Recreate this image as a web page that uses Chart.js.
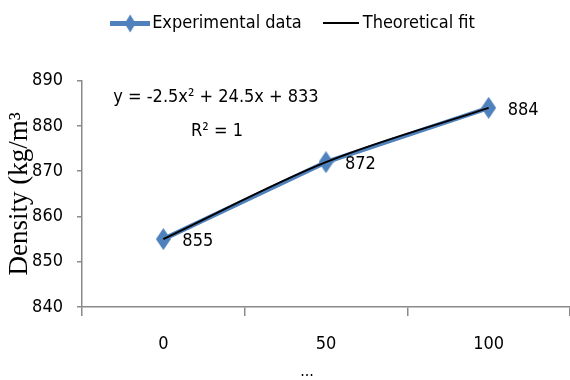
<!DOCTYPE html>
<html>
<head>
<meta charset="utf-8">
<script src="https://cdn.jsdelivr.net/npm/chart.js@4"></script>
<style>
  html, body { margin: 0; padding: 0; background: #fff; }
  #wrap { width: 570px; height: 380px; }
</style>
</head>
<body>
<div id="wrap"><canvas id="myChart"></canvas></div>
<script>
/* globals Chart */

const categories = ["0", "50", "100"];
const densityValues = [855, 872, 884];
const fitValues = [855, 872, 884];
const yTicks = [840, 850, 860, 870, 880, 890];
const seriesNames = ["Experimental data", "Theoretical fit"];
const fitEquation = ["y = -2.5x² + 24.5x + 833", "R² = 1"];

const SANS = "'DejaVu Sans Condensed', 'Liberation Sans', sans-serif";
const SERIF = "'Liberation Serif', 'DejaVu Serif', serif";
const BLUE = "#4f81bd";
const AXIS = "#8a8a8a";

function makeCanvas(w, h, draw) {
  const c = document.createElement("canvas");
  c.width = w;
  c.height = h;
  draw(c.getContext("2d"));
  return c;
}

function diamond(c, cx, cy, w, h) {
  c.beginPath();
  c.moveTo(cx, cy - h / 2);
  c.lineTo(cx + w / 2, cy);
  c.lineTo(cx, cy + h / 2);
  c.lineTo(cx - w / 2, cy);
  c.closePath();
  c.fill();
}

const pointImg = makeCanvas(15, 22, (c) => {
  c.fillStyle = BLUE;
  diamond(c, 7.5, 11, 15, 22);
});

const legendBlue = makeCanvas(40, 20, (c) => {
  c.fillStyle = BLUE;
  c.fillRect(0, 8, 40, 5);
  diamond(c, 20, 10.5, 11, 18);
});

const legendBlack = makeCanvas(36, 20, (c) => {
  c.fillStyle = "#000";
  c.fillRect(0, 9, 36, 2);
});

// value labels, trendline equation and the clipped x title
const annotations = {
  id: "annotations",
  afterDatasetsDraw(chart) {
    const ctx = chart.ctx;
    const meta = chart.getDatasetMeta(0);
    ctx.save();
    ctx.fillStyle = "#000";
    ctx.textBaseline = "middle";
    ctx.textAlign = "left";
    ctx.font = `18px ${SANS}`;
    meta.data.forEach((pt, i) => {
      ctx.fillText(String(densityValues[i]), pt.x + 19, pt.y + 2);
    });
    ctx.textAlign = "center";
    ctx.fillText(fitEquation[0], 216, 97);
    ctx.fillText(fitEquation[1], 217, 131);
    ctx.font = `16px ${SANS}`;
    ctx.fillText("...", 307, 372);
    ctx.restore();
  },
};

const ctx = document.getElementById("myChart").getContext("2d");

/* exported myChart */
const myChart = new Chart(ctx, {
  type: "line",
  data: {
    labels: categories,
    datasets: [
      {
        label: seriesNames[0],
        data: densityValues,
        borderColor: BLUE,
        backgroundColor: BLUE,
        borderWidth: 4.5,
        pointStyle: pointImg,
        pointRadius: 7,
        tension: 0,
        order: 1,
      },
      {
        label: seriesNames[1],
        data: fitValues,
        borderColor: "#000",
        backgroundColor: "#000",
        borderWidth: 2,
        pointRadius: 0,
        cubicInterpolationMode: "monotone",
        order: 0,
      },
    ],
  },
  options: {
    responsive: true,
    maintainAspectRatio: false,
    devicePixelRatio: 1,
    animation: false,
    layout: {
      autoPadding: false,
      padding: { top: -12, left: 22, right: 0, bottom: 0 },
    },
    scales: {
      x: {
        offset: true,
        grid: {
          offset: true,
          drawOnChartArea: false,
          tickLength: 9,
          color: AXIS,
          lineWidth: 1.5,
        },
        border: { color: AXIS, width: 1.5 },
        ticks: {
          color: "#000",
          maxRotation: 0,
          padding: 18,
          font: { family: SANS, size: 18 },
        },
        afterFit: (s) => {
          s.height = 73;
        },
      },
      y: {
        min: 840,
        max: 890,
        afterBuildTicks: (s) => {
          s.ticks = yTicks.map((v) => ({ value: v }));
        },
        grid: {
          drawOnChartArea: false,
          tickLength: 5,
          color: AXIS,
          lineWidth: 1.5,
        },
        border: { color: AXIS, width: 1.5 },
        ticks: {
          color: "#000",
          padding: 14,
          font: { family: SANS, size: 18 },
        },
        title: {
          display: true,
          text: "Density (kg/m³",
          color: "#000",
          font: { family: SERIF, size: 27 },
          padding: { top: -18.2, bottom: 0 },
        },
        afterFit: (s) => {
          s.width = 60;
        },
      },
    },
    plugins: {
      legend: {
        weight: 3000,
        labels: {
          usePointStyle: true,
          pointStyleWidth: 26,
          padding: 26,
          color: "#000",
          font: { family: SANS, size: 18 },
          sort: (a, b) => a.datasetIndex - b.datasetIndex,
          generateLabels: (chart) => {
            const items = Chart.defaults.plugins.legend.labels.generateLabels(chart);
            items.forEach((it) => {
              it.pointStyle = it.datasetIndex === 0 ? legendBlue : legendBlack;
            });
            return items;
          },
        },
      },
      // spacer between legend and plot
      title: {
        display: true,
        text: " ",
        font: { size: 1 },
        padding: { top: 0, bottom: 37.5 },
      },
      tooltip: { enabled: false },
    },
  },
  plugins: [annotations],
});
</script>
</body>
</html>
